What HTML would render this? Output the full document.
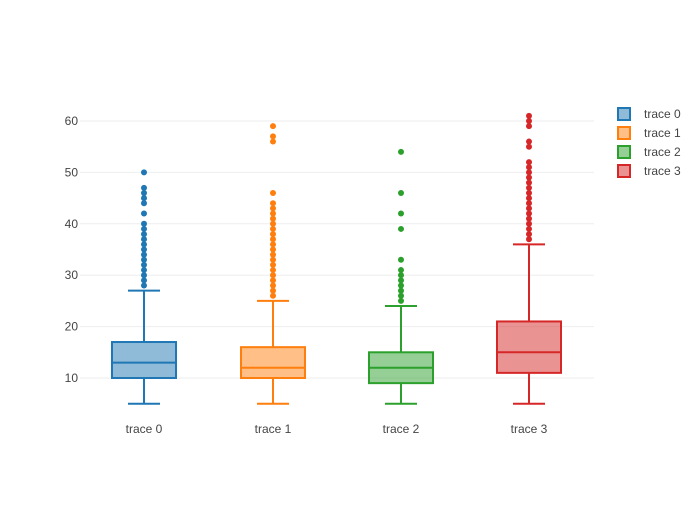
<!DOCTYPE html><html><head><style>body{margin:0;background:#fff}svg{font-family:"Liberation Sans",sans-serif}</style></head><body>
<svg id="s" width="700" height="500" xmlns="http://www.w3.org/2000/svg"></svg>
<script>
const s=document.getElementById('s');let h='';
const Y=v=>429.4-5.14*v;
for(const v of [10,20,30,40,50,60]){h+=`<line x1="80" x2="594" y1="${Y(v)}" y2="${Y(v)}" stroke="#eee" stroke-width="1"/><text x="78" y="${Y(v)+4}" font-size="12" fill="#444" text-anchor="end">${v}</text>`;}
const r=(a,b)=>{let o=[];for(let i=a;i<=b;i++)o.push(i);return o;};
const T=[
{c:'#1f77b4',f:'rgba(31,119,180,0.5)',x:144,q:[5,10,13,17,27],o:[...r(28,40),42,44,45,46,47,50]},
{c:'#ff7f0e',f:'rgba(255,127,14,0.5)',x:273,q:[5,10,12,16,25],o:[...r(26,44),46,56,57,59]},
{c:'#2ca02c',f:'rgba(44,160,44,0.5)',x:401,q:[5,9,12,15,24],o:[...r(25,31),33,39,42,46,54]},
{c:'#d62728',f:'rgba(214,39,40,0.5)',x:529,q:[5,11,15,21,36],o:[...r(37,52),55,56,59,60,61]}];
T.forEach((t,i)=>{const x=t.x,q=t.q;
h+=`<g stroke="${t.c}" stroke-width="2" fill="none">
<line x1="${x}" x2="${x}" y1="${Y(q[0])}" y2="${Y(q[1])}"/><line x1="${x}" x2="${x}" y1="${Y(q[3])}" y2="${Y(q[4])}"/>
<line x1="${x-16}" x2="${x+16}" y1="${Y(q[0])}" y2="${Y(q[0])}"/><line x1="${x-16}" x2="${x+16}" y1="${Y(q[4])}" y2="${Y(q[4])}"/>
<rect x="${x-32}" y="${Y(q[3])}" width="64" height="${Y(q[1])-Y(q[3])}" fill="${t.f}"/>
<line x1="${x-32}" x2="${x+32}" y1="${Y(q[2])}" y2="${Y(q[2])}"/></g>`;
t.o.forEach(v=>h+=`<circle cx="${x}" cy="${Y(v)}" r="3" fill="${t.c}"/>`);
h+=`<text x="${x}" y="433" font-size="12" fill="#444" text-anchor="middle">trace ${i}</text>`;
const ly=114+19*i;
h+=`<rect x="618" y="${ly-6}" width="12" height="12" fill="${t.f}" stroke="${t.c}" stroke-width="2"/><text x="644" y="${ly+4}" font-size="12" fill="#444">trace ${i}</text>`;
});
s.innerHTML=h;
</script></body></html>
